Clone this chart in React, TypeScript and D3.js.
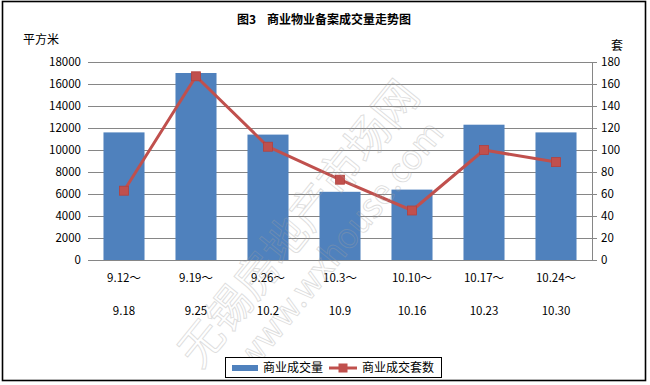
import React from "react";
import * as d3 from "d3";

const categoriesTop = ["9.12～", "9.19～", "9.26～", "10.3～", "10.10～", "10.17～", "10.24～"];
const categoriesBottom = ["9.18", "9.25", "10.2", "10.9", "10.16", "10.23", "10.30"];
const areaValues = [11600, 17000, 11400, 6200, 6400, 12300, 11600];
const unitValues = [63, 167, 103, 73, 45, 100, 89];
const leftTicks = [0, 2000, 4000, 6000, 8000, 10000, 12000, 14000, 16000, 18000];
const rightTicks = [0, 20, 40, 60, 80, 100, 120, 140, 160, 180];
const title = "图3\u00a0\u00a0\u00a0\u00a0商业物业备案成交量走势图";
const leftUnit = "平方米";
const rightUnit = "套";
const seriesNames = ["商业成交量", "商业成交套数"];
const watermark1 = "无锡房地产市场网";
const watermark2 = "www.wxhouse.com";

const W = 650, H = 385;
const plot = { left: 88, right: 592, top: 62, bottom: 260 };
const BLUE = "#4F81BD";
const RED = "#C0504D";
const GRID = "#868686";
const FONT = "'Noto Sans CJK SC', 'DejaVu Sans', sans-serif";

export default function App() {
  const idx = categoriesTop.map((_, i) => i);
  const x = d3.scaleBand<number>().domain(idx).range([plot.left, plot.right]).paddingInner(0.43).paddingOuter(0.215);
  const xc = (i: number) => (x(i) as number) + x.bandwidth() / 2;
  const yL = d3.scaleLinear().domain([0, 18000]).range([plot.bottom, plot.top]);
  const yR = d3.scaleLinear().domain([0, 180]).range([plot.bottom, plot.top]);
  const line = d3.line<number>().x((_, i) => xc(i)).y((d) => yR(d));

  return (
    <svg width={W} height={H} style={{ position: "absolute", left: 0, top: 0, background: "#fff" }} fontFamily={FONT}>
      <rect x={0} y={0} width={W} height={H} fill="#fff" />
      <rect x={2.5} y={1.5} width={643} height={379} fill="none" stroke="#000" strokeWidth={1.6} />
      <text x={324} y={24} textAnchor="middle" fontSize={12} fontWeight="bold" fill="#000">{title}</text>
      <text x={23} y={44} fontSize={12} fill="#000">{leftUnit}</text>
      <text x={611} y={50} fontSize={12} fill="#000">{rightUnit}</text>

      {leftTicks.map((t) => (
        <g key={"g" + t}>
          <line x1={plot.left} x2={plot.right} y1={Math.round(yL(t)) + 0.5} y2={Math.round(yL(t)) + 0.5} stroke={GRID} strokeWidth={1} />
          <text x={81} y={yL(t) + 4} textAnchor="end" fontSize={11.5} fill="#000">{t}</text>
        </g>
      ))}
      <line x1={plot.right + 0.5} x2={plot.right + 0.5} y1={plot.top} y2={plot.bottom} stroke={GRID} strokeWidth={1} />
      {rightTicks.map((t) => (
        <g key={"r" + t}>
          <line x1={plot.right} x2={plot.right + 5} y1={Math.round(yR(t)) + 0.5} y2={Math.round(yR(t)) + 0.5} stroke={GRID} strokeWidth={1} />
          <text x={601} y={yR(t) + 4} textAnchor="start" fontSize={11.5} fill="#000">{t}</text>
        </g>
      ))}

      {areaValues.map((v, i) => (
        <rect key={"b" + i} x={x(i)} y={yL(v)} width={x.bandwidth()} height={yL(0) - yL(v)} fill={BLUE} />
      ))}

      <path d={line(unitValues) || ""} fill="none" stroke={RED} strokeWidth={3} strokeLinejoin="round" />
      {unitValues.map((v, i) => (
        <rect key={"m" + i} x={xc(i) - 4.5} y={yR(v) - 4.5} width={9} height={9} fill={RED} stroke="#B5403D" strokeWidth={0.8} />
      ))}

      {idx.map((i) => (
        <g key={"x" + i}>
          <text x={xc(i)} y={282} textAnchor="middle" fontSize={11.5} fill="#000">{categoriesTop[i]}</text>
          <text x={xc(i)} y={315} textAnchor="middle" fontSize={11.5} fill="#000">{categoriesBottom[i]}</text>
        </g>
      ))}

      <g opacity={0.35} fill="none" stroke="#a0a0a0" strokeWidth={0.9} fontFamily={FONT}>
        <text transform="translate(200,370) rotate(-51)" fontSize={44}>{watermark1}</text>
        <text transform="translate(252,372) rotate(-51)" fontSize={34}>{watermark2}</text>
      </g>

      <rect x={225.5} y={357.5} width={216} height={20} fill="#fff" stroke="#000" strokeWidth={1} />
      <rect x={232} y={365} width={26} height={6} fill={BLUE} />
      <text x={263} y={372} fontSize={12} fill="#000">{seriesNames[0]}</text>
      <line x1={329} x2={357} y1={368} y2={368} stroke={RED} strokeWidth={3} />
      <rect x={338.5} y={363.5} width={9} height={9} fill={RED} />
      <text x={362} y={372} fontSize={12} fill="#000">{seriesNames[1]}</text>
    </svg>
  );
}
